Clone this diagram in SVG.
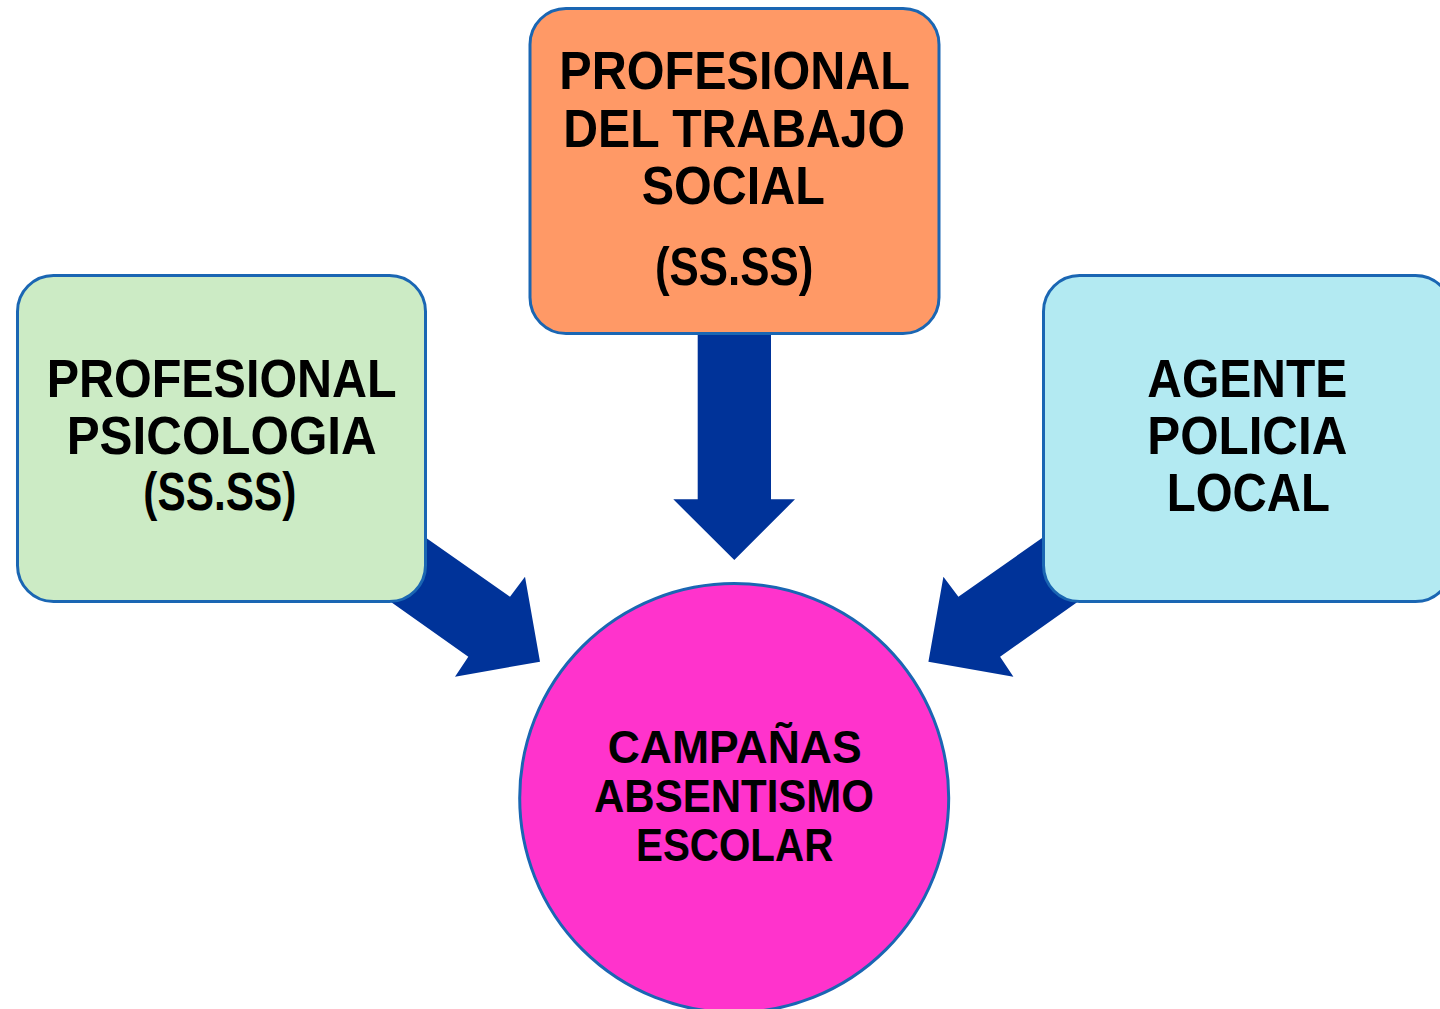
<svg xmlns="http://www.w3.org/2000/svg" width="1440" height="1009" viewBox="0 0 1440 1009">
<style>
.box{stroke:#1A66B3;stroke-width:3}
.t{font-family:"Liberation Sans",Arial,sans-serif;font-weight:700;fill:#000;font-size:53px}
.tc{font-size:46px}
.arr{fill:#003399}
</style>
<rect width="1440" height="1009" fill="#fff"/>
<g id="connectors">
<polygon class="arr" points="380,505.6 510,596.7 525,576.7 540,661.7 455,676.7 468.3,656.7 350,573"/>
<polygon class="arr" points="1088.4,505.6 958.4,596.7 943.4,576.7 928.4,661.7 1013.4,676.7 1000.1,656.7 1118.4,573"/>
<polygon class="arr" points="697.7,320 771,320 771,499.3 795,499.3 734.3,560 673.3,499.3 697.7,499.3"/>
</g>
<g id="node-psicologia">
<rect class="box" x="17.5" y="275.5" width="408" height="326" rx="36" fill="#CCEBC5"/>
<text class="t" x="46.7" y="396.7" textLength="350" lengthAdjust="spacingAndGlyphs">PROFESIONAL</text>
<text class="t" x="66.7" y="454" textLength="310" lengthAdjust="spacingAndGlyphs">PSICOLOGIA</text>
<text class="t" x="143.3" y="510" textLength="153" lengthAdjust="spacingAndGlyphs">(SS.SS)</text>
</g>
<g id="node-trabajo-social">
<rect class="box" x="530" y="8.5" width="409" height="325" rx="36" fill="#FF9966"/>
<text class="t" x="559.3" y="89.3" textLength="350.7" lengthAdjust="spacingAndGlyphs">PROFESIONAL</text>
<text class="t" x="563.3" y="146.7" textLength="341.7" lengthAdjust="spacingAndGlyphs">DEL TRABAJO</text>
<text class="t" x="641.7" y="204" textLength="183.3" lengthAdjust="spacingAndGlyphs">SOCIAL</text>
<text class="t" x="655" y="285" textLength="158.3" lengthAdjust="spacingAndGlyphs">(SS.SS)</text>
</g>
<g id="node-policia">
<rect class="box" x="1043.5" y="275.5" width="408" height="326" rx="36" fill="#B3EAF2"/>
<text class="t" x="1147.3" y="396.7" textLength="200" lengthAdjust="spacingAndGlyphs">AGENTE</text>
<text class="t" x="1147.3" y="454" textLength="200" lengthAdjust="spacingAndGlyphs">POLICIA</text>
<text class="t" x="1166.7" y="510.7" textLength="163.3" lengthAdjust="spacingAndGlyphs">LOCAL</text>
</g>
<g id="node-campanas">
<circle class="box" cx="734.2" cy="798" r="214.5" fill="#FF33CC"/>
<text class="t tc" x="607.7" y="762.7" textLength="254" lengthAdjust="spacingAndGlyphs">CAMPAÑAS</text>
<text class="t tc" x="594" y="811.7" textLength="280" lengthAdjust="spacingAndGlyphs">ABSENTISMO</text>
<text class="t tc" x="636" y="860.7" textLength="197.3" lengthAdjust="spacingAndGlyphs">ESCOLAR</text>
</g>
</svg>
